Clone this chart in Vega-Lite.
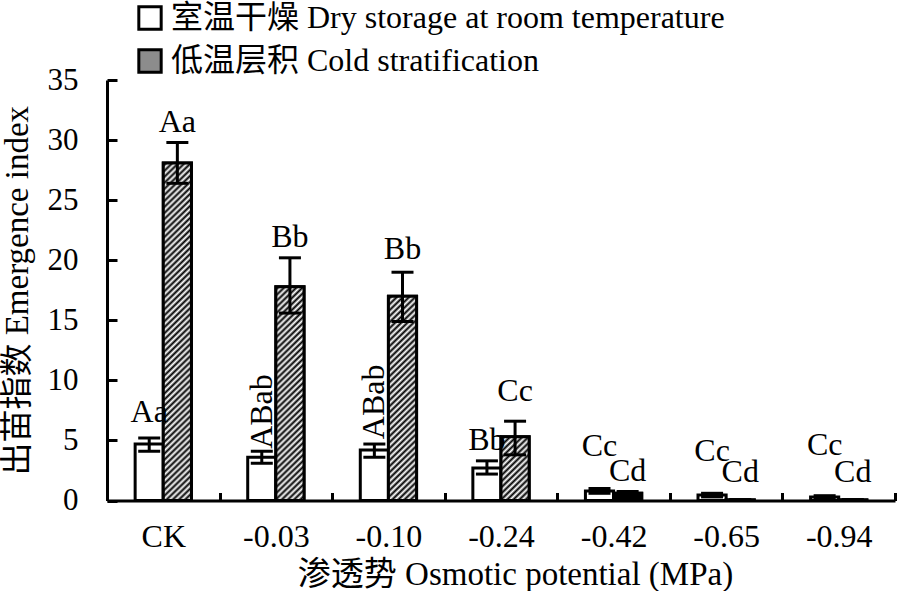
{
  "$schema": "https://vega.github.io/schema/vega-lite/v6.json",
  "width": 788,
  "height": 420.5,
  "autosize": {"type": "none"},
  "padding": {"left": 107, "top": 80, "right": 5, "bottom": 90},
  "background": "white",
  "config": {
    "view": {"stroke": null},
    "font": "Liberation Serif, Noto Sans CJK SC",
    "axis": {"grid": false, "domainColor": "black", "domainWidth": 3, "tickColor": "black", "tickWidth": 3, "labelColor": "black", "titleColor": "black", "titleFontWeight": "normal"}
  },
  "data": {
    "values": [
      {"cat": "CK", "group": "室温干燥 Dry storage at room temperature", "mean": 4.7, "lo": 4.1, "hi": 5.2, "label": "Aa", "label_y": 6.5, "rot": "no"},
      {"cat": "CK", "group": "低温层积 Cold stratification", "mean": 28.1, "lo": 26.4, "hi": 29.8, "label": "Aa", "label_y": 30.7, "rot": "no"},
      {"cat": "-0.03", "group": "室温干燥 Dry storage at room temperature", "mean": 3.6, "lo": 3.1, "hi": 4.1, "label": "ABab", "label_y": 4.3, "rot": "yes"},
      {"cat": "-0.03", "group": "低温层积 Cold stratification", "mean": 17.8, "lo": 15.6, "hi": 20.2, "label": "Bb", "label_y": 21.1, "rot": "no"},
      {"cat": "-0.10", "group": "室温干燥 Dry storage at room temperature", "mean": 4.2, "lo": 3.6, "hi": 4.7, "label": "ABab", "label_y": 5.1, "rot": "yes"},
      {"cat": "-0.10", "group": "低温层积 Cold stratification", "mean": 17.0, "lo": 14.9, "hi": 19.0, "label": "Bb", "label_y": 20.1, "rot": "no"},
      {"cat": "-0.24", "group": "室温干燥 Dry storage at room temperature", "mean": 2.7, "lo": 2.2, "hi": 3.3, "label": "Bb", "label_y": 4.2, "rot": "no"},
      {"cat": "-0.24", "group": "低温层积 Cold stratification", "mean": 5.3, "lo": 3.8, "hi": 6.6, "label": "Cc", "label_y": 8.3, "rot": "no"},
      {"cat": "-0.42", "group": "室温干燥 Dry storage at room temperature", "mean": 0.8, "lo": 0.6, "hi": 1.0, "label": "Cc", "label_y": 3.7, "rot": "no"},
      {"cat": "-0.42", "group": "低温层积 Cold stratification", "mean": 0.6, "lo": 0.4, "hi": 0.75, "label": "Cd", "label_y": 1.6, "rot": "no"},
      {"cat": "-0.65", "group": "室温干燥 Dry storage at room temperature", "mean": 0.45, "lo": 0.3, "hi": 0.6, "label": "Cc", "label_y": 3.3, "rot": "no"},
      {"cat": "-0.65", "group": "低温层积 Cold stratification", "mean": 0.05, "lo": 0.02, "hi": 0.08, "label": "Cd", "label_y": 1.5, "rot": "no"},
      {"cat": "-0.94", "group": "室温干燥 Dry storage at room temperature", "mean": 0.3, "lo": 0.2, "hi": 0.4, "label": "Cc", "label_y": 3.8, "rot": "no"},
      {"cat": "-0.94", "group": "低温层积 Cold stratification", "mean": 0.05, "lo": 0.02, "hi": 0.08, "label": "Cd", "label_y": 1.5, "rot": "no"}
    ]
  },
  "encoding": {
    "x": {
      "field": "cat", "type": "nominal",
      "sort": ["CK", "-0.03", "-0.10", "-0.24", "-0.42", "-0.65", "-0.94"],
      "scale": {"paddingInner": 0, "paddingOuter": 0},
      "axis": {"title": "渗透势 Osmotic potential (MPa)", "tickBand": "extent", "tickSize": -8, "labelAngle": 0, "labelPadding": 29, "labelFontSize": 32, "labelFont": "Liberation Serif", "titleFont": "Liberation Serif, Noto Sans CJK SC", "titleFontSize": 33, "titlePadding": 6, "titleX": 408}
    },
    "xOffset": {
      "field": "group", "type": "nominal",
      "sort": ["室温干燥 Dry storage at room temperature", "低温层积 Cold stratification"],
      "scale": {"paddingInner": 0, "paddingOuter": 1.05}
    }
  },
  "layer": [
    {
      "mark": {"type": "bar", "stroke": "black", "strokeWidth": 3},
      "encoding": {
        "y": {
          "field": "mean", "type": "quantitative",
          "scale": {"domain": [0, 35], "nice": false},
          "axis": {"title": "出苗指数 Emergence index", "values": [0, 5, 10, 15, 20, 25, 30, 35], "tickSize": -10, "labelPadding": 39, "labelFontSize": 31, "labelFont": "Liberation Serif", "titleFont": "Liberation Serif, Noto Sans CJK SC", "titleFontSize": 33, "titlePadding": 13}
        },
        "fill": {
          "field": "group", "type": "nominal",
          "sort": ["室温干燥 Dry storage at room temperature", "低温层积 Cold stratification"],
          "scale": {"range": ["white", "#8c8c8c"]},
          "legend": {
            "orient": "none", "legendX": 27, "legendY": -78, "title": null, "padding": 0,
            "symbolType": "square", "symbolSize": 500, "symbolStrokeColor": "black", "symbolStrokeWidth": 3,
            "labelFontSize": 32, "labelFont": "Liberation Serif, Noto Sans CJK SC", "labelColor": "black", "labelLimit": 2000, "rowPadding": 7, "labelOffset": 5
          }
        }
      }
    },
    {
      "transform": [{"filter": "datum.group == '低温层积 Cold stratification' && datum.mean < 1"}],
      "mark": {"type": "bar", "stroke": "black", "strokeWidth": 3, "fill": "black"},
      "encoding": {"y": {"field": "mean", "type": "quantitative"}}
    },
    {
      "transform": [{"filter": "datum.group == '低温层积 Cold stratification' && datum.cat == 'CK'"}],
      "mark": {"type": "bar", "stroke": "black", "strokeWidth": 3, "fill": {"gradient": "linear", "x1": 0, "y1": 0, "x2": 1, "y2": 12.296, "stops": [
        {"offset": 0, "color": "#fff"}, {"offset": 0.00072, "color": "#000"}, {"offset": 0.00144, "color": "#fff"}, {"offset": 0.00216, "color": "#000"}, {"offset": 0.00288, "color": "#fff"}, {"offset": 0.0036, "color": "#000"}, {"offset": 0.00432, "color": "#fff"}, {"offset": 0.00504, "color": "#000"}, {"offset": 0.00576, "color": "#fff"}, {"offset": 0.00648, "color": "#000"},
        {"offset": 0.0072, "color": "#fff"}, {"offset": 0.00792, "color": "#000"}, {"offset": 0.00864, "color": "#fff"}, {"offset": 0.00936, "color": "#000"}, {"offset": 0.01008, "color": "#fff"}, {"offset": 0.0108, "color": "#000"}, {"offset": 0.01152, "color": "#fff"}, {"offset": 0.01224, "color": "#000"}, {"offset": 0.01296, "color": "#fff"}, {"offset": 0.01368, "color": "#000"},
        {"offset": 0.0144, "color": "#fff"}, {"offset": 0.01512, "color": "#000"}, {"offset": 0.01584, "color": "#fff"}, {"offset": 0.01656, "color": "#000"}, {"offset": 0.01728, "color": "#fff"}, {"offset": 0.018, "color": "#000"}, {"offset": 0.01872, "color": "#fff"}, {"offset": 0.01944, "color": "#000"}, {"offset": 0.02016, "color": "#fff"}, {"offset": 0.02088, "color": "#000"},
        {"offset": 0.0216, "color": "#fff"}, {"offset": 0.02232, "color": "#000"}, {"offset": 0.02304, "color": "#fff"}, {"offset": 0.02376, "color": "#000"}, {"offset": 0.02448, "color": "#fff"}, {"offset": 0.0252, "color": "#000"}, {"offset": 0.02592, "color": "#fff"}, {"offset": 0.02664, "color": "#000"}, {"offset": 0.02736, "color": "#fff"}, {"offset": 0.02808, "color": "#000"},
        {"offset": 0.0288, "color": "#fff"}, {"offset": 0.02952, "color": "#000"}, {"offset": 0.03024, "color": "#fff"}, {"offset": 0.03096, "color": "#000"}, {"offset": 0.03168, "color": "#fff"}, {"offset": 0.0324, "color": "#000"}, {"offset": 0.03312, "color": "#fff"}, {"offset": 0.03384, "color": "#000"}, {"offset": 0.03456, "color": "#fff"}, {"offset": 0.03528, "color": "#000"},
        {"offset": 0.036, "color": "#fff"}, {"offset": 0.03672, "color": "#000"}, {"offset": 0.03744, "color": "#fff"}, {"offset": 0.03816, "color": "#000"}, {"offset": 0.03888, "color": "#fff"}, {"offset": 0.0396, "color": "#000"}, {"offset": 0.04032, "color": "#fff"}, {"offset": 0.04104, "color": "#000"}, {"offset": 0.04176, "color": "#fff"}, {"offset": 0.04248, "color": "#000"},
        {"offset": 0.0432, "color": "#fff"}, {"offset": 0.04392, "color": "#000"}, {"offset": 0.04464, "color": "#fff"}, {"offset": 0.04536, "color": "#000"}, {"offset": 0.04608, "color": "#fff"}, {"offset": 0.0468, "color": "#000"}, {"offset": 0.04752, "color": "#fff"}, {"offset": 0.04824, "color": "#000"}, {"offset": 0.04896, "color": "#fff"}, {"offset": 0.04968, "color": "#000"},
        {"offset": 0.0504, "color": "#fff"}, {"offset": 0.05112, "color": "#000"}, {"offset": 0.05184, "color": "#fff"}, {"offset": 0.05256, "color": "#000"}, {"offset": 0.05328, "color": "#fff"}, {"offset": 0.054, "color": "#000"}, {"offset": 0.05472, "color": "#fff"}, {"offset": 0.05544, "color": "#000"}, {"offset": 0.05616, "color": "#fff"}, {"offset": 0.05688, "color": "#000"},
        {"offset": 0.0576, "color": "#fff"}, {"offset": 0.05832, "color": "#000"}, {"offset": 0.05904, "color": "#fff"}, {"offset": 0.05976, "color": "#000"}, {"offset": 0.06048, "color": "#fff"}, {"offset": 0.0612, "color": "#000"}, {"offset": 0.06192, "color": "#fff"}, {"offset": 0.06264, "color": "#000"}, {"offset": 0.06336, "color": "#fff"}, {"offset": 0.06408, "color": "#000"},
        {"offset": 0.0648, "color": "#fff"}, {"offset": 0.06552, "color": "#000"}, {"offset": 0.06624, "color": "#fff"}, {"offset": 0.06696, "color": "#000"}, {"offset": 0.06768, "color": "#fff"}, {"offset": 0.0684, "color": "#000"}, {"offset": 0.06912, "color": "#fff"}, {"offset": 0.06984, "color": "#000"}, {"offset": 0.07056, "color": "#fff"}, {"offset": 0.07128, "color": "#000"},
        {"offset": 0.072, "color": "#fff"}, {"offset": 0.07272, "color": "#000"}, {"offset": 0.07344, "color": "#fff"}, {"offset": 0.07416, "color": "#000"}, {"offset": 0.07488, "color": "#fff"}, {"offset": 0.0756, "color": "#000"}, {"offset": 0.07632, "color": "#fff"}, {"offset": 0.07704, "color": "#000"}, {"offset": 0.07776, "color": "#fff"}, {"offset": 0.07848, "color": "#000"},
        {"offset": 0.0792, "color": "#fff"}, {"offset": 0.07992, "color": "#000"}, {"offset": 0.08064, "color": "#fff"}, {"offset": 0.08136, "color": "#000"}, {"offset": 0.08208, "color": "#fff"}, {"offset": 0.0828, "color": "#000"}, {"offset": 0.08352, "color": "#fff"}, {"offset": 0.08424, "color": "#000"}, {"offset": 0.08496, "color": "#fff"}, {"offset": 0.08568, "color": "#000"},
        {"offset": 0.0864, "color": "#fff"}, {"offset": 0.08712, "color": "#000"}, {"offset": 0.08784, "color": "#fff"}
      ]}},
      "encoding": {"y": {"field": "mean", "type": "quantitative"}}
    },
    {
      "transform": [{"filter": "datum.group == '低温层积 Cold stratification' && datum.cat == '-0.03'"}],
      "mark": {"type": "bar", "stroke": "black", "strokeWidth": 3, "fill": {"gradient": "linear", "x1": 0, "y1": 0, "x2": 1, "y2": 7.789, "stops": [
        {"offset": 0, "color": "#fff"}, {"offset": 0.00177, "color": "#000"}, {"offset": 0.00354, "color": "#fff"}, {"offset": 0.00531, "color": "#000"}, {"offset": 0.00708, "color": "#fff"}, {"offset": 0.00885, "color": "#000"}, {"offset": 0.01062, "color": "#fff"}, {"offset": 0.01239, "color": "#000"}, {"offset": 0.01416, "color": "#fff"}, {"offset": 0.01593, "color": "#000"},
        {"offset": 0.0177, "color": "#fff"}, {"offset": 0.01947, "color": "#000"}, {"offset": 0.02124, "color": "#fff"}, {"offset": 0.02301, "color": "#000"}, {"offset": 0.02478, "color": "#fff"}, {"offset": 0.02655, "color": "#000"}, {"offset": 0.02832, "color": "#fff"}, {"offset": 0.03009, "color": "#000"}, {"offset": 0.03186, "color": "#fff"}, {"offset": 0.03363, "color": "#000"},
        {"offset": 0.0354, "color": "#fff"}, {"offset": 0.03717, "color": "#000"}, {"offset": 0.03894, "color": "#fff"}, {"offset": 0.04071, "color": "#000"}, {"offset": 0.04248, "color": "#fff"}, {"offset": 0.04425, "color": "#000"}, {"offset": 0.04602, "color": "#fff"}, {"offset": 0.04779, "color": "#000"}, {"offset": 0.04956, "color": "#fff"}, {"offset": 0.05133, "color": "#000"},
        {"offset": 0.0531, "color": "#fff"}, {"offset": 0.05487, "color": "#000"}, {"offset": 0.05664, "color": "#fff"}, {"offset": 0.05841, "color": "#000"}, {"offset": 0.06018, "color": "#fff"}, {"offset": 0.06195, "color": "#000"}, {"offset": 0.06372, "color": "#fff"}, {"offset": 0.06549, "color": "#000"}, {"offset": 0.06726, "color": "#fff"}, {"offset": 0.06903, "color": "#000"},
        {"offset": 0.0708, "color": "#fff"}, {"offset": 0.07257, "color": "#000"}, {"offset": 0.07434, "color": "#fff"}, {"offset": 0.07611, "color": "#000"}, {"offset": 0.07788, "color": "#fff"}, {"offset": 0.07965, "color": "#000"}, {"offset": 0.08142, "color": "#fff"}, {"offset": 0.08319, "color": "#000"}, {"offset": 0.08496, "color": "#fff"}, {"offset": 0.08673, "color": "#000"},
        {"offset": 0.0885, "color": "#fff"}, {"offset": 0.09027, "color": "#000"}, {"offset": 0.09204, "color": "#fff"}, {"offset": 0.09381, "color": "#000"}, {"offset": 0.09558, "color": "#fff"}, {"offset": 0.09735, "color": "#000"}, {"offset": 0.09912, "color": "#fff"}, {"offset": 0.10089, "color": "#000"}, {"offset": 0.10266, "color": "#fff"}, {"offset": 0.10443, "color": "#000"},
        {"offset": 0.1062, "color": "#fff"}, {"offset": 0.10797, "color": "#000"}, {"offset": 0.10974, "color": "#fff"}, {"offset": 0.11151, "color": "#000"}, {"offset": 0.11328, "color": "#fff"}, {"offset": 0.11505, "color": "#000"}, {"offset": 0.11682, "color": "#fff"}, {"offset": 0.11859, "color": "#000"}, {"offset": 0.12036, "color": "#fff"}, {"offset": 0.12213, "color": "#000"},
        {"offset": 0.1239, "color": "#fff"}, {"offset": 0.12567, "color": "#000"}, {"offset": 0.12744, "color": "#fff"}, {"offset": 0.12921, "color": "#000"}, {"offset": 0.13098, "color": "#fff"}, {"offset": 0.13275, "color": "#000"}, {"offset": 0.13452, "color": "#fff"}, {"offset": 0.13629, "color": "#000"}, {"offset": 0.13806, "color": "#fff"}, {"offset": 0.13983, "color": "#000"},
        {"offset": 0.1416, "color": "#fff"}, {"offset": 0.14337, "color": "#000"}
      ]}},
      "encoding": {"y": {"field": "mean", "type": "quantitative"}}
    },
    {
      "transform": [{"filter": "datum.group == '低温层积 Cold stratification' && datum.cat == '-0.10'"}],
      "mark": {"type": "bar", "stroke": "black", "strokeWidth": 3, "fill": {"gradient": "linear", "x1": 0, "y1": 0, "x2": 1, "y2": 7.439, "stops": [
        {"offset": 0, "color": "#fff"}, {"offset": 0.00194, "color": "#000"}, {"offset": 0.00388, "color": "#fff"}, {"offset": 0.00582, "color": "#000"}, {"offset": 0.00776, "color": "#fff"}, {"offset": 0.0097, "color": "#000"}, {"offset": 0.01164, "color": "#fff"}, {"offset": 0.01358, "color": "#000"}, {"offset": 0.01552, "color": "#fff"}, {"offset": 0.01746, "color": "#000"},
        {"offset": 0.0194, "color": "#fff"}, {"offset": 0.02134, "color": "#000"}, {"offset": 0.02328, "color": "#fff"}, {"offset": 0.02522, "color": "#000"}, {"offset": 0.02716, "color": "#fff"}, {"offset": 0.0291, "color": "#000"}, {"offset": 0.03104, "color": "#fff"}, {"offset": 0.03298, "color": "#000"}, {"offset": 0.03492, "color": "#fff"}, {"offset": 0.03686, "color": "#000"},
        {"offset": 0.0388, "color": "#fff"}, {"offset": 0.04074, "color": "#000"}, {"offset": 0.04268, "color": "#fff"}, {"offset": 0.04462, "color": "#000"}, {"offset": 0.04656, "color": "#fff"}, {"offset": 0.0485, "color": "#000"}, {"offset": 0.05044, "color": "#fff"}, {"offset": 0.05238, "color": "#000"}, {"offset": 0.05432, "color": "#fff"}, {"offset": 0.05626, "color": "#000"},
        {"offset": 0.0582, "color": "#fff"}, {"offset": 0.06014, "color": "#000"}, {"offset": 0.06208, "color": "#fff"}, {"offset": 0.06402, "color": "#000"}, {"offset": 0.06596, "color": "#fff"}, {"offset": 0.0679, "color": "#000"}, {"offset": 0.06984, "color": "#fff"}, {"offset": 0.07178, "color": "#000"}, {"offset": 0.07372, "color": "#fff"}, {"offset": 0.07566, "color": "#000"},
        {"offset": 0.0776, "color": "#fff"}, {"offset": 0.07954, "color": "#000"}, {"offset": 0.08148, "color": "#fff"}, {"offset": 0.08342, "color": "#000"}, {"offset": 0.08536, "color": "#fff"}, {"offset": 0.0873, "color": "#000"}, {"offset": 0.08924, "color": "#fff"}, {"offset": 0.09118, "color": "#000"}, {"offset": 0.09312, "color": "#fff"}, {"offset": 0.09506, "color": "#000"},
        {"offset": 0.097, "color": "#fff"}, {"offset": 0.09894, "color": "#000"}, {"offset": 0.10088, "color": "#fff"}, {"offset": 0.10282, "color": "#000"}, {"offset": 0.10476, "color": "#fff"}, {"offset": 0.1067, "color": "#000"}, {"offset": 0.10864, "color": "#fff"}, {"offset": 0.11058, "color": "#000"}, {"offset": 0.11252, "color": "#fff"}, {"offset": 0.11446, "color": "#000"},
        {"offset": 0.1164, "color": "#fff"}, {"offset": 0.11834, "color": "#000"}, {"offset": 0.12028, "color": "#fff"}, {"offset": 0.12222, "color": "#000"}, {"offset": 0.12416, "color": "#fff"}, {"offset": 0.1261, "color": "#000"}, {"offset": 0.12804, "color": "#fff"}, {"offset": 0.12998, "color": "#000"}, {"offset": 0.13192, "color": "#fff"}, {"offset": 0.13386, "color": "#000"},
        {"offset": 0.1358, "color": "#fff"}, {"offset": 0.13774, "color": "#000"}, {"offset": 0.13968, "color": "#fff"}, {"offset": 0.14162, "color": "#000"}, {"offset": 0.14356, "color": "#fff"}, {"offset": 0.1455, "color": "#000"}, {"offset": 0.14744, "color": "#fff"}, {"offset": 0.14938, "color": "#000"}, {"offset": 0.15132, "color": "#fff"}
      ]}},
      "encoding": {"y": {"field": "mean", "type": "quantitative"}}
    },
    {
      "transform": [{"filter": "datum.group == '低温层积 Cold stratification' && datum.cat == '-0.24'"}],
      "mark": {"type": "bar", "stroke": "black", "strokeWidth": 3, "fill": {"gradient": "linear", "x1": 0, "y1": 0, "x2": 1, "y2": 2.319, "stops": [
        {"offset": 0, "color": "#fff"}, {"offset": 0.0171, "color": "#000"}, {"offset": 0.0342, "color": "#fff"}, {"offset": 0.0513, "color": "#000"}, {"offset": 0.0684, "color": "#fff"}, {"offset": 0.0855, "color": "#000"}, {"offset": 0.1026, "color": "#fff"}, {"offset": 0.1197, "color": "#000"}, {"offset": 0.1368, "color": "#fff"}, {"offset": 0.1539, "color": "#000"},
        {"offset": 0.171, "color": "#fff"}, {"offset": 0.1881, "color": "#000"}, {"offset": 0.2052, "color": "#fff"}, {"offset": 0.2223, "color": "#000"}, {"offset": 0.2394, "color": "#fff"}, {"offset": 0.2565, "color": "#000"}, {"offset": 0.2736, "color": "#fff"}, {"offset": 0.2907, "color": "#000"}, {"offset": 0.3078, "color": "#fff"}, {"offset": 0.3249, "color": "#000"},
        {"offset": 0.342, "color": "#fff"}, {"offset": 0.3591, "color": "#000"}, {"offset": 0.3762, "color": "#fff"}, {"offset": 0.3933, "color": "#000"}, {"offset": 0.4104, "color": "#fff"}, {"offset": 0.4275, "color": "#000"}, {"offset": 0.4446, "color": "#fff"}, {"offset": 0.4617, "color": "#000"}, {"offset": 0.4788, "color": "#fff"}, {"offset": 0.4959, "color": "#000"},
        {"offset": 0.513, "color": "#fff"}, {"offset": 0.5301, "color": "#000"}
      ]}},
      "encoding": {"y": {"field": "mean", "type": "quantitative"}}
    },
    {
      "mark": {"type": "rule", "strokeWidth": 3, "color": "black"},
      "encoding": {
        "y": {"field": "lo", "type": "quantitative"},
        "y2": {"field": "hi"}
      }
    },
    {
      "mark": {"type": "tick", "thickness": 3, "size": 22, "color": "black", "opacity": 1},
      "encoding": {"y": {"field": "lo", "type": "quantitative"}}
    },
    {
      "mark": {"type": "tick", "thickness": 3, "size": 22, "color": "black", "opacity": 1},
      "encoding": {"y": {"field": "hi", "type": "quantitative"}}
    },
    {
      "transform": [{"filter": "datum.rot == 'no'"}],
      "mark": {"type": "text", "fontSize": 32, "baseline": "alphabetic", "align": "center", "color": "black", "font": "Liberation Serif"},
      "encoding": {
        "y": {"field": "label_y", "type": "quantitative"},
        "text": {"field": "label"}
      }
    },
    {
      "transform": [{"filter": "datum.rot == 'yes'"}],
      "mark": {"type": "text", "fontSize": 32, "baseline": "middle", "align": "left", "angle": 270, "color": "black", "font": "Liberation Serif"},
      "encoding": {
        "y": {"field": "label_y", "type": "quantitative"},
        "text": {"field": "label"}
      }
    }
  ]
}
